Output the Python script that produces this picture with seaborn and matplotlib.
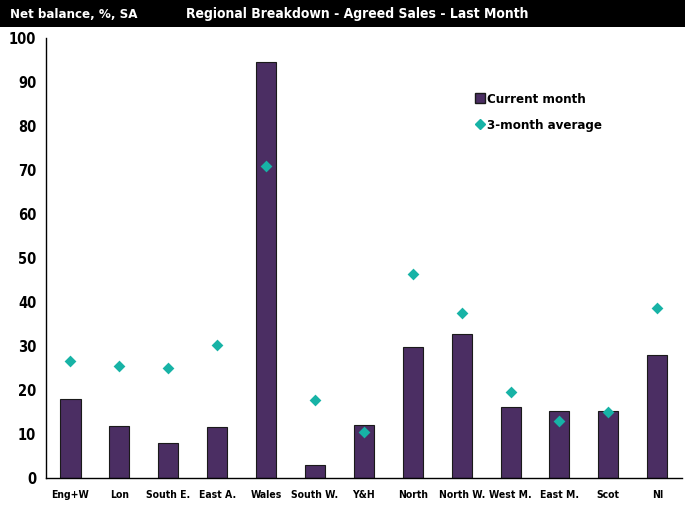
import matplotlib
matplotlib.use("Agg")
import matplotlib.pyplot as plt
from matplotlib.lines import Line2D
import seaborn as sns
import pandas as pd
from matplotlib import font_manager

regions = ["Eng+W", "Lon", "South E.", "East A.", "Wales", "South W.", "Y&H",
           "North", "North W.", "West M.", "East M.", "Scot", "NI"]
current_month = [17.9, 11.8, 8.0, 11.5, 94.5, 2.9, 12.0, 29.8, 32.7, 16.1, 15.3, 15.3, 28.0]
three_month_avg = [26.6, 25.5, 25.0, 30.2, 70.9, 17.7, 10.5, 46.4, 37.5, 19.5, 13.0, 15.0, 38.6]
y_ticks = [0, 10, 20, 30, 40, 50, 60, 70, 80, 90, 100]

names = {f.name for f in font_manager.fontManager.ttflist}

sns.set_style("white")
if "Liberation Sans Narrow" in names:
    plt.rcParams["font.family"] = ["Liberation Sans Narrow", "DejaVu Sans"]
    stretch = "normal"
else:
    plt.rcParams["font.family"] = ["DejaVu Sans"]
    stretch = "condensed"
plt.rcParams["font.stretch"] = stretch
plt.rcParams["text.color"] = "black"

df = pd.DataFrame({"region": regions, "current": current_month, "avg": three_month_avg})

fig = plt.figure(figsize=(6.85, 5.07), dpi=100)
ax = fig.add_axes([0.0672, 0.0572, 0.928, 0.8679])

bar_color = "#4B2E63"
dia_color = "#17B3A6"

sns.barplot(data=df, x="region", y="current", color=bar_color, width=0.41,
            edgecolor="#1a1a1a", linewidth=0.8, saturation=1, ax=ax)
sns.stripplot(data=df, x="region", y="avg", jitter=False, marker="D", size=6,
              color=dia_color, linewidth=0, ax=ax)

ax.set_xlim(-0.5, 12.5)
ax.set_ylim(0, 100)
ax.set_yticks(y_ticks)
ax.set_xlabel("")
ax.set_ylabel("")
for s in ["top", "right"]:
    ax.spines[s].set_visible(False)
for s in ["left", "bottom"]:
    ax.spines[s].set_color("black")
    ax.spines[s].set_linewidth(1.0)
ax.tick_params(axis="y", length=0, pad=7, labelsize=10.5)
ax.tick_params(axis="x", length=0, pad=9, labelsize=7.5)
for t in ax.get_yticklabels() + ax.get_xticklabels():
    t.set_fontweight("bold")
    t.set_color("black")
    t.set_fontstretch(stretch)

handles = [
    Line2D([0], [0], marker="s", color="none", markerfacecolor=bar_color,
           markeredgecolor="#1a1a1a", markersize=7, linestyle="none"),
    Line2D([0], [0], marker="D", color="none", markerfacecolor=dia_color,
           markeredgecolor=dia_color, markersize=5, linestyle="none"),
]
leg = ax.legend(handles, ["Current month", "3-month average"], loc="upper left",
                bbox_to_anchor=(0.657, 0.903), frameon=False, handlelength=0.6,
                handletextpad=0.3, labelspacing=1.0,
                prop={"weight": "bold", "size": 9.5, "stretch": stretch})
for t in leg.get_texts():
    t.set_color("black")

# header band
fig.patches.append(plt.Rectangle((0, 1 - 27 / 507), 1, 27 / 507, transform=fig.transFigure,
                                 facecolor="black", edgecolor="none", zorder=0))
fig.text(10 / 685, 1 - 14 / 507, "Net balance, %, SA", color="white", fontsize=9.5,
         fontweight="bold", fontstretch=stretch, va="center", ha="left")
fig.text(186 / 685, 1 - 14 / 507, "Regional Breakdown - Agreed Sales - Last Month",
         color="white", fontsize=10, fontweight="bold", fontstretch=stretch,
         va="center", ha="left")

fig.savefig("out.png", dpi=100)
